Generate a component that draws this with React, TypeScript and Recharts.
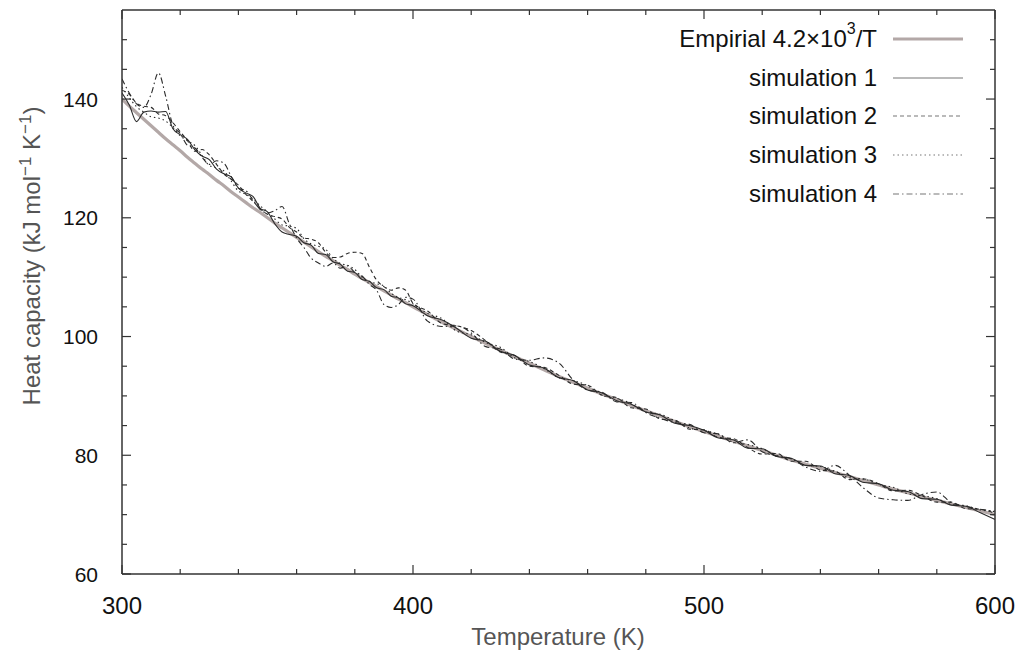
import { LineChart, Line, XAxis, YAxis } from 'recharts';

// temperature grid (K): 2.5 K steps up to 400, 5 K after
const temperature = [
  300, 302.5, 305, 307.5, 310, 312.5, 315, 317.5, 320, 322.5, 325, 327.5, 330, 332.5, 335, 337.5,
  340, 342.5, 345, 347.5, 350, 352.5, 355, 357.5, 360, 362.5, 365, 367.5, 370, 372.5, 375, 377.5,
  380, 382.5, 385, 387.5, 390, 392.5, 395, 397.5, 400,
  405, 410, 415, 420, 425, 430, 435, 440, 445, 450, 455, 460, 465, 470, 475, 480, 485, 490, 495, 500,
  505, 510, 515, 520, 525, 530, 535, 540, 545, 550, 555, 560, 565, 570, 575, 580, 585, 590, 595, 600,
];

const empirical = [
  140.0, 138.8, 137.7, 136.6, 135.5, 134.4, 133.3, 132.3, 131.3, 130.2, 129.2, 128.2, 127.3, 126.3, 125.4, 124.4,
  123.5, 122.6, 121.7, 120.9, 120.0, 119.1, 118.3, 117.5, 116.7, 115.9, 115.1, 114.3, 113.5, 112.8, 112.0, 111.3,
  110.5, 109.8, 109.1, 108.4, 107.7, 107.0, 106.3, 105.7, 105.0,
  103.7, 102.4, 101.2, 100.0, 98.8, 97.7, 96.6, 95.5, 94.4, 93.3, 92.3, 91.3, 90.3, 89.4, 88.4, 87.5, 86.6, 85.7, 84.8, 84.0,
  83.2, 82.4, 81.6, 80.8, 80.0, 79.2, 78.5, 77.8, 77.1, 76.4, 75.7, 75.0, 74.3, 73.7, 73.0, 72.4, 71.8, 71.2, 70.6, 70.0,
];

const simulation1 = [
  141.0, 139.0, 136.2, 137.8, 138.0, 137.8, 137.9, 135.0, 134.0, 133.2, 131.5, 130.4, 129.8, 128.2, 127.4, 126.9,
  125.0, 124.2, 123.6, 121.6, 121.0, 119.0, 117.6, 117.2, 116.9, 115.8, 115.4, 114.0, 113.8, 112.6, 112.2, 111.0,
  110.8, 109.6, 109.3, 108.2, 107.9, 106.8, 106.5, 105.5, 105.2,
  103.5, 102.8, 101.4, 99.7, 99.2, 97.5, 96.8, 95.2, 94.7, 93.1, 92.6, 91.0, 90.5, 89.2, 88.6, 87.3, 86.8, 85.4, 85.0, 84.2,
  82.9, 82.6, 81.2, 81.1, 79.8, 79.5, 78.3, 78.2, 76.9, 76.6, 75.4, 75.2, 74.1, 73.9, 72.7, 72.6, 71.6, 71.4, 70.3, 69.2,
];

const simulation2 = [
  141.5, 140.8, 139.3, 138.8, 138.6, 137.5, 137.2, 136.0, 134.5, 133.0, 131.2, 131.5, 130.6, 129.0, 127.4, 126.5,
  125.5, 124.0, 122.8, 121.5, 120.6, 120.2, 119.8, 118.4, 117.6, 116.6, 116.4, 115.8, 114.2, 113.3, 113.4, 114.0,
  114.2, 114.0, 111.7, 109.5, 108.4, 107.8, 108.2, 107.8, 105.6,
  104.3, 102.2, 101.8, 101.0, 99.3, 97.4, 96.8, 95.0, 94.8, 93.5, 92.0, 91.8, 90.1, 89.7, 88.0, 87.8, 86.1, 85.9, 84.4, 84.3,
  83.0, 82.8, 81.3, 80.2, 80.3, 79.0, 79.0, 77.5, 77.3, 75.9, 76.0, 75.2, 74.0, 74.1, 73.2, 72.1, 72.1, 71.0, 70.9, 70.2,
];

const simulation3 = [
  142.0, 140.2, 138.7, 137.8, 137.0, 136.8, 136.3, 135.2, 133.8, 133.0, 132.2, 130.5, 128.8, 128.4, 127.9, 126.2,
  124.5, 124.0, 123.2, 122.0, 121.0, 119.8, 118.8, 118.6, 118.2, 116.5, 115.6, 115.2, 114.7, 113.2, 112.3, 112.0,
  111.3, 110.0, 109.3, 108.9, 108.5, 107.3, 106.6, 106.2, 105.5,
  103.9, 103.0, 100.9, 100.3, 99.0, 98.2, 96.4, 95.8, 94.6, 93.1, 92.6, 91.7, 90.1, 89.6, 88.7, 87.3, 86.9, 85.8, 84.6, 84.2,
  83.5, 82.2, 81.8, 81.1, 79.9, 79.4, 78.3, 78.1, 77.3, 76.2, 76.0, 75.1, 74.6, 73.5, 73.2, 72.7, 71.7, 71.5, 70.8, 70.5,
];

const simulation4 = [
  143.4, 141.0, 139.2, 138.6, 140.8, 144.4, 140.5, 135.6, 134.2, 132.2, 131.8, 130.2, 129.0, 129.6, 129.2, 127.0,
  125.0, 124.6, 123.0, 121.4, 120.8, 121.2, 121.9, 119.0, 116.6, 115.0, 113.2, 112.4, 111.8, 112.4, 111.5, 111.9,
  110.8, 110.2, 108.8, 107.8, 105.4, 104.9, 105.4, 106.6, 106.3,
  102.6, 101.7, 101.8, 100.6, 98.3, 97.9, 96.2, 96.0, 96.4, 95.6, 92.7, 91.0, 90.6, 89.0, 88.9, 87.2, 86.2, 85.5, 85.2, 83.8,
  83.6, 82.1, 82.6, 80.6, 79.9, 79.4, 78.0, 77.3, 78.3, 76.6, 74.4, 72.8, 72.5, 72.4, 73.4, 73.8, 72.0, 71.4, 70.9, 70.6,
];

const xTicks = [300, 320, 340, 360, 380, 400, 420, 440, 460, 480, 500, 520, 540, 560, 580, 600];
const yTicks = [60, 65, 70, 75, 80, 85, 90, 95, 100, 105, 110, 115, 120, 125, 130, 135, 140, 145, 150];

const data = temperature.map((t, i) => ({
  t,
  emp: empirical[i],
  s1: simulation1[i],
  s2: simulation2[i],
  s3: simulation3[i],
  s4: simulation4[i],
}));

const FONT = '"Liberation Sans", Arial, Helvetica, sans-serif';
const AXIS = '#333';
const INK = '#2a2a2a';

const series = [
  { key: 'emp', label: 'Empirial', color: '#b3a8a7', width: 3.2, dash: undefined },
  { key: 's1', label: 'simulation 1', color: INK, width: 1.1, dash: undefined },
  { key: 's2', label: 'simulation 2', color: INK, width: 1.1, dash: '4 3' },
  { key: 's3', label: 'simulation 3', color: INK, width: 1.1, dash: '1.5 3' },
  { key: 's4', label: 'simulation 4', color: INK, width: 1.1, dash: '6 3 1.5 3' },
];

const BottomTick = ({ x, y, payload }: any) => {
  const major = payload.value % 100 === 0;
  return (
    <g>
      <line x1={x} x2={x} y1={y} y2={y - (major ? 9 : 5)} stroke={AXIS} strokeWidth={1.2} />
      {major && (
        <text x={x} y={y + 40} textAnchor="middle" fontSize={24} fill="#111" fontFamily={FONT}>
          {payload.value}
        </text>
      )}
    </g>
  );
};

const TopTick = ({ x, y, payload }: any) => {
  const major = payload.value % 100 === 0;
  return <line x1={x} x2={x} y1={y} y2={y + (major ? 9 : 5)} stroke={AXIS} strokeWidth={1.2} />;
};

const LeftTick = ({ x, y, payload }: any) => {
  const major = payload.value % 20 === 0;
  return (
    <g>
      <line x1={x} x2={x + (major ? 9 : 5)} y1={y} y2={y} stroke={AXIS} strokeWidth={1.2} />
      {major && (
        <text x={x - 24} y={y} dy="0.36em" textAnchor="end" fontSize={21} fill="#111" fontFamily={FONT}>
          {payload.value}
        </text>
      )}
    </g>
  );
};

const RightTick = ({ x, y, payload }: any) => {
  const major = payload.value % 20 === 0;
  return <line x1={x} x2={x - (major ? 9 : 5)} y1={y} y2={y} stroke={AXIS} strokeWidth={1.2} />;
};

const ChartLegend = () => (
  <div
    style={{
      position: 'absolute',
      top: 20,
      right: 53,
      fontFamily: FONT,
      fontSize: 24,
      color: '#111',
    }}
  >
    {series.map((s) => (
      <div key={s.key} style={{ display: 'flex', alignItems: 'center', justifyContent: 'flex-end', height: 38.6 }}>
        <span style={{ whiteSpace: 'nowrap' }}>
          {s.key === 'emp' ? (
            <>
              Empirial 4.2&times;10
              <sup style={{ fontSize: 16, verticalAlign: 'top', lineHeight: 1, position: 'relative', top: -4 }}>3</sup>/T
            </>
          ) : (
            s.label
          )}
        </span>
        <svg width={70} height={10} style={{ marginLeft: 16 }}>
          <line
            x1={0}
            x2={70}
            y1={5}
            y2={5}
            stroke={s.key === 'emp' ? s.color : '#777'}
            strokeWidth={s.width}
            strokeDasharray={s.dash}
          />
        </svg>
      </div>
    ))}
  </div>
);

export default function App() {
  return (
    <div style={{ position: 'absolute', left: 0, top: 0, width: 1016, height: 653, background: '#fff' }}>
      <LineChart width={1016} height={653} data={data} margin={{ top: 9, right: 20, left: 0, bottom: 0 }}>
        <XAxis
          dataKey="t"
          type="number"
          domain={[300, 600]}
          ticks={xTicks}
          interval={0}
          height={79}
          tickSize={0}
          tickMargin={0}
          tickLine={false}
          axisLine={{ stroke: AXIS, strokeWidth: 1.5 }}
          tick={BottomTick}
          allowDataOverflow
          label={{
            content: () => (
              <text x={558} y={637} dy="0.35em" textAnchor="middle" fontSize={24} fill="#555" fontFamily={FONT}>
                Temperature (K)
              </text>
            ),
          }}
        />
        <XAxis
          xAxisId="top"
          orientation="top"
          dataKey="t"
          type="number"
          domain={[300, 600]}
          ticks={xTicks}
          interval={0}
          height={1}
          tickSize={0}
          tickMargin={0}
          tickLine={false}
          axisLine={{ stroke: AXIS, strokeWidth: 1.5 }}
          tick={TopTick}
          allowDataOverflow
        />
        <YAxis
          type="number"
          domain={[60, 155]}
          ticks={yTicks}
          interval={0}
          width={122}
          tickSize={0}
          tickMargin={0}
          tickLine={false}
          axisLine={{ stroke: AXIS, strokeWidth: 1.5 }}
          tick={LeftTick}
          allowDataOverflow
          label={{
            content: () => (
              <text
                transform="translate(32, 256) rotate(-90)"
                dy="0.35em"
                textAnchor="middle"
                fontSize={24}
                fill="#555"
                fontFamily={FONT}
              >
                Heat capacity (kJ mol
                <tspan dy={-9} fontSize={17}>
                  −1
                </tspan>
                <tspan dy={9}> K</tspan>
                <tspan dy={-9} fontSize={17}>
                  −1
                </tspan>
                <tspan dy={9}>)</tspan>
              </text>
            ),
          }}
        />
        <YAxis
          yAxisId="right"
          orientation="right"
          type="number"
          domain={[60, 155]}
          ticks={yTicks}
          interval={0}
          width={1}
          tickSize={0}
          tickMargin={0}
          tickLine={false}
          axisLine={{ stroke: AXIS, strokeWidth: 1.5 }}
          tick={RightTick}
          allowDataOverflow
        />
        {/* hidden series so the mirrored top/right axes get drawn */}
        <Line
          xAxisId="top"
          yAxisId="right"
          dataKey="emp"
          stroke="none"
          dot={false}
          activeDot={false}
          legendType="none"
          isAnimationActive={false}
        />
        {series.map((s) => (
          <Line
            key={s.key}
            dataKey={s.key}
            type="monotone"
            stroke={s.color}
            strokeWidth={s.width}
            strokeDasharray={s.dash}
            dot={false}
            activeDot={false}
            isAnimationActive={false}
          />
        ))}
      </LineChart>
      <ChartLegend />
    </div>
  );
}
